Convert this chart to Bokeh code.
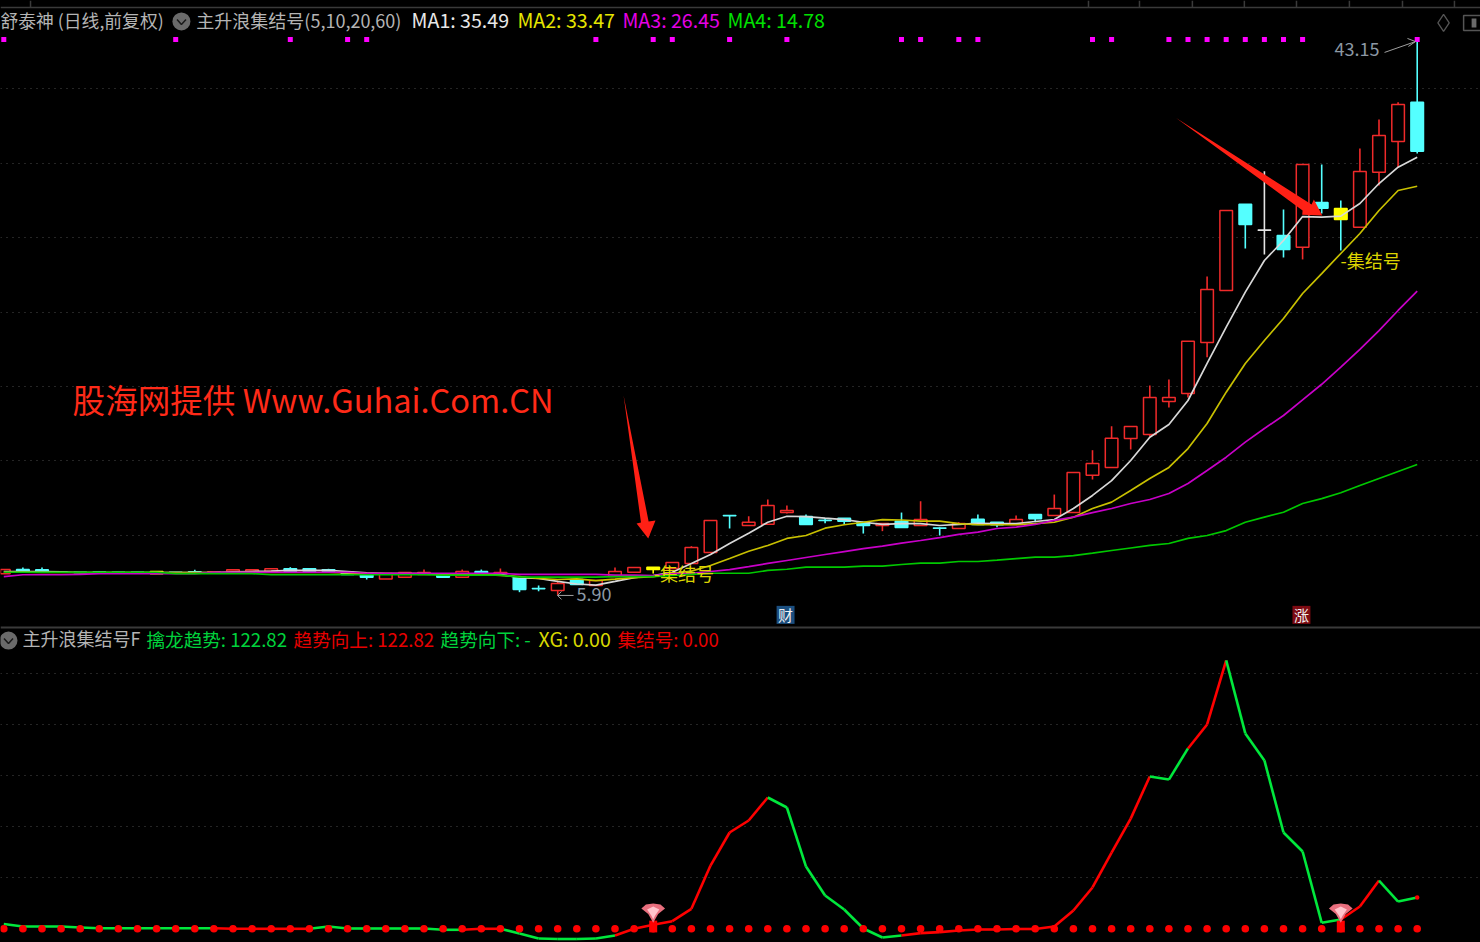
from bokeh.plotting import figure
from bokeh.layouts import column
from bokeh.models import Range1d, FixedTicker, Span
from bokeh.core.properties import value
from bokeh.embed import file_html
from bokeh.resources import INLINE

# ---------- daily bars (price, index 0..74) ----------
OPEN = [7.31,7.60,7.58,7.44,7.42,7.43,7.42,7.42,7.47,7.42,7.46,7.40,7.47,7.47,7.49,7.65,7.65,7.58,7.42,7.27,
        6.96,7.09,7.27,7.22,7.09,7.47,7.31,7.06,6.33,6.19,6.93,6.53,7.13,7.42,7.76,7.67,8.01,8.75,11.24,10.56,
        10.65,11.43,11.16,10.91,11.05,10.78,10.56,10.85,10.56,10.39,10.36,10.98,10.78,10.63,11.30,11.23,11.43,13.94,14.46,16.41,
        16.68,18.89,19.43,22.86,26.35,32.15,30.42,30.05,29.26,32.27,31.86,30.61,34.30,36.37,39.01]
CLOSE = [7.60,7.49,7.47,7.42,7.40,7.41,7.40,7.40,7.31,7.40,7.43,7.45,7.58,7.58,7.65,7.49,7.49,7.49,7.27,7.09,
         7.33,7.40,7.40,7.09,7.47,7.33,7.40,6.26,6.31,6.66,6.60,6.86,7.47,7.74,7.60,8.07,9.08,10.90,11.22,10.78,
         11.90,11.57,10.63,10.89,10.85,10.56,10.69,10.43,10.96,10.37,10.69,10.63,10.61,10.96,11.01,11.70,14.12,14.73,16.43,17.21,
         19.16,19.16,22.95,26.42,31.73,30.79,30.40,29.11,34.82,31.88,31.12,34.35,36.77,38.85,35.71]
HIGH = [7.60,7.74,7.74,7.46,7.44,7.45,7.44,7.44,7.47,7.44,7.58,7.45,7.58,7.58,7.65,7.76,7.65,7.65,7.42,7.27,
        7.33,7.40,7.60,7.22,7.60,7.60,7.67,7.06,6.53,6.86,6.93,6.86,7.74,7.74,7.76,8.07,9.17,10.90,11.24,11.18,
        12.31,11.90,11.30,11.05,11.05,10.78,10.69,11.43,12.19,10.43,10.78,11.30,10.78,11.23,11.30,12.64,14.12,15.62,17.23,17.21,
        19.97,20.37,22.95,27.29,31.73,32.15,34.37,31.80,34.82,34.82,32.40,35.89,37.84,39.01,43.15]
LOW = [7.31,7.49,7.47,7.40,7.38,7.39,7.38,7.38,7.31,7.38,7.43,7.40,7.47,7.47,7.49,7.49,7.49,7.49,7.27,6.93,
       6.96,7.09,7.27,7.09,7.09,7.33,7.31,6.08,6.14,5.90,6.60,6.53,7.13,7.42,7.33,7.67,8.01,8.75,10.36,10.56,
       10.65,11.37,10.63,10.71,10.63,10.02,10.18,10.43,10.56,9.89,10.36,10.63,10.45,10.63,10.78,11.23,11.43,13.65,14.46,15.67,
       16.54,18.49,19.16,21.87,26.35,29.17,28.77,28.57,28.44,31.53,29.04,30.61,33.41,34.62,35.56]
YELLOW_BARS = [8, 34, 70]
WHITE_BARS = [66]
CYAN_WICK_BARS = [70]

# ---------- moving averages ----------
MA1 = [7.47,7.47,7.47,7.44,7.40,7.40,7.40,7.40,7.40,7.40,7.40,7.40,7.44,7.47,7.50,7.54,7.54,7.54,7.47,7.37,
       7.33,7.33,7.33,7.27,7.27,7.30,7.27,7.06,7.00,6.80,6.63,6.55,6.80,7.06,7.20,7.42,8.01,8.61,9.35,10.04,
       10.78,11.18,11.16,11.05,10.96,10.78,10.63,10.69,10.69,10.56,10.63,10.71,10.69,10.69,10.83,10.96,11.70,12.58,13.58,14.93,
       16.49,17.35,18.96,21.45,23.89,26.24,28.37,29.71,31.32,31.28,31.35,32.20,33.54,34.64,35.31]
MA2 = [7.42,7.42,7.40,7.40,7.40,7.40,7.40,7.40,7.40,7.40,7.40,7.40,7.40,7.40,7.40,7.40,7.40,7.40,7.37,7.33,
       7.33,7.33,7.33,7.30,7.27,7.27,7.20,7.13,7.00,6.93,6.97,6.86,6.95,7.06,7.13,7.33,7.49,7.87,8.34,8.83,
       9.22,9.69,9.89,10.38,10.61,10.78,10.96,10.93,10.85,10.85,10.69,10.61,10.61,10.61,10.69,10.78,11.12,11.70,12.13,12.91,
       13.72,14.46,15.73,17.41,19.52,21.45,22.99,24.47,26.15,27.49,28.84,30.18,31.73,33.07,33.36]
MA3 = [7.13,7.25,7.25,7.25,7.27,7.33,7.33,7.33,7.33,7.33,7.33,7.42,7.42,7.42,7.42,7.42,7.42,7.42,7.42,7.35,
       7.35,7.35,7.35,7.35,7.35,7.35,7.35,7.27,7.27,7.27,7.27,7.27,7.23,7.23,7.20,7.33,7.35,7.47,7.60,7.80,
       8.01,8.21,8.41,8.61,8.81,9.01,9.17,9.37,9.55,9.75,9.96,10.11,10.36,10.45,10.63,10.90,11.12,11.43,11.70,12.04,
       12.31,12.71,13.38,14.26,15.15,16.16,17.08,17.95,19.00,20.05,21.20,22.39,23.66,25.01,26.31]
MA4 = [7.42,7.42,7.42,7.42,7.42,7.42,7.42,7.42,7.42,7.33,7.33,7.33,7.33,7.33,7.25,7.25,7.25,7.25,7.25,7.25,
       7.25,7.25,7.25,7.22,7.22,7.22,7.22,7.09,7.09,7.09,7.09,7.09,7.13,7.13,7.13,7.20,7.27,7.35,7.35,7.35,
       7.54,7.62,7.76,7.76,7.76,7.83,7.83,7.94,8.03,8.03,8.14,8.14,8.23,8.34,8.43,8.43,8.54,8.70,8.88,9.05,
       9.22,9.35,9.69,9.89,10.22,10.78,11.12,11.45,12.04,12.37,12.76,13.25,13.72,14.19,14.66]
MA_COLORS = ["#d8d8d8", "#c8c000", "#c800c8", "#00c800"]

# ---------- signal row on top of the price panel ----------
MARK_BARS = [0,9,15,18,19,31,34,35,38,41,47,48,50,51,57,58,61,62,63,64,65,66,67,68,74]
MARK_LEVEL = 43.22

# ---------- lower indicator ----------
TREND = [18.8,9,9,9,5,2.4,2.4,2.4,2.4,2.4,2.4,2.4,0,0,0,0,0,9,1.2,1.2,
         1.2,1.2,1.2,-3.9,-3.9,0,0,-18.4,-38,-40,-40,-38,-26,0,15.7,29.8,78.4,248,377.5,424.5,
         514.7,475.5,244,130.5,75.7,1.2,-34,-26,-17,-13,-6.7,-2.7,-2.7,-0.8,-0.8,9,71.7,162,299,432,
         597,585,707,801,1052,766,660,377.5,303,23.5,36.5,87.4,189,107,122.82]
RED_RANGES = [(12,16),(25,26),(33,40),(48,60),(63,64),(71,72)]
SIGNAL_BARS = [34, 70]
BELL_DX = [-0.62, -0.38, 0, 0.38, 0.62, 0.26, 0, -0.26]
BELL_V = [79.6, 95, 99, 95, 79.6, 58, 24, 58]
BELL_IN_DX = [-0.32, 0, 0.32, 0.1, 0, -0.1]
BELL_IN_V = [76, 87, 76, 52, 37, 52]

# ---------- texts ----------
HEAD_TOP = [("舒泰神 (日线,前复权)", -0.173, "#b4b4b4", "17.8px"), ("主升浪集结号(5,10,20,60)", 10.08, "#b4b4b4", "18px"),
            ("MA1: 35.49", 21.35, "#e8e8e8", "19.6px"), ("MA2: 33.47", 26.89, "#e6e600", "19.6px"),
            ("MA3: 26.45", 32.39, "#e600e6", "19.6px"), ("MA4: 14.78", 37.89, "#00e000", "19.6px")]
HEAD_LOW = [("主升浪集结号F", 0.98, "#b4b4b4", "18px"), ("擒龙趋势: 122.82", 7.47, "#00d23c", "18.6px"),
            ("趋势向上: 122.82", 15.17, "#e60000", "18.6px"), ("趋势向下: -", 22.87, "#00d23c", "18.6px"),
            ("XG: 0.00", 28.0, "#d8d800", "19.6px"), ("集结号: 0.00", 32.13, "#e60000", "18.6px")]
FONT = value("Noto Sans CJK SC")

X_LO, X_HI = -0.1728, 77.3141
W, H1, H2 = 1480, 625, 317

p = figure(width=W, height=H1, output_backend="svg", toolbar_location=None,
           x_range=Range1d(X_LO, X_HI), y_range=Range1d(3.84, 45.84),
           background_fill_color="#000000", border_fill_color="#000000",
           min_border=0, outline_line_color=None)
p.axis.visible = False
p.xgrid.visible = False
p.ygrid.ticker = FixedTicker(ticks=[39.9, 34.9, 29.9, 24.9, 19.9, 14.9, 9.9])
p.ygrid.grid_line_color = "#4a4a4a"
p.ygrid.grid_line_dash = "1 5"
p.ygrid.grid_line_width = 1

# frame strokes
p.add_layout(Span(location=45.37, dimension="width", line_color="#3a3a3a", line_width=1.5))
TOP_TICKS = [1.40, 56.79, 59.46, 62.23, 64.95, 67.68, 70.45, 73.23, 75.95]
p.segment(TOP_TICKS, [45.37]*len(TOP_TICKS), TOP_TICKS, [45.84]*len(TOP_TICKS), line_color="#3a3a3a", line_width=1.5)

# candles
idx = list(range(len(OPEN)))
RED, CYAN = "#f02a2a", "#54ffff"
def bar_color(i):
    if i in YELLOW_BARS: return "#ffff00"
    if i in WHITE_BARS: return "#e4e4e4"
    return RED if CLOSE[i] >= OPEN[i] else CYAN
cols = [bar_color(i) for i in idx]
wick = [CYAN if i in CYAN_WICK_BARS else cols[i] for i in idx]
fill = ["#000000" if c == RED else c for c in cols]
p.segment(idx, LOW, idx, HIGH, line_color=wick, line_width=1.6)
p.vbar(x=idx, width=0.66, bottom=[min(a, b) for a, b in zip(OPEN, CLOSE)],
       top=[max(a, b) for a, b in zip(OPEN, CLOSE)], fill_color=fill, line_color=cols, line_width=1.5)

# moving averages (longest period drawn last, on top)
for series, c in zip([MA1, MA2, MA3, MA4], MA_COLORS):
    p.line(idx, series, line_color=c, line_width=1.7)

# signal row
p.scatter(MARK_BARS, [MARK_LEVEL]*len(MARK_BARS), marker="square", size=5, fill_color="#ff00ff", line_color=None)

# red call-out arrows
ARROW1_X = [32.45, 33.76, 34.12, 33.74, 33.13, 33.36]
ARROW1_Y = [19.30, 10.83, 10.90, 9.69, 10.69, 10.76]
ARROW2_X = [61.38, 68.47, 68.59, 69.03, 67.98, 68.00]
ARROW2_Y = [37.95, 32.13, 32.47, 31.39, 31.44, 31.73]
p.patch(ARROW1_X, ARROW1_Y, fill_color="#ff2015", line_color=None)
p.patch(ARROW2_X, ARROW2_Y, fill_color="#ff2015", line_color=None)

# extreme-value pointers
p.line([72.29, 73.91], [42.35, 43.08], line_color="#a0a0a0", line_width=1)
p.line([73.49, 73.91, 73.54], [43.29, 43.08, 42.75], line_color="#a0a0a0", line_width=1)
p.line([28.99, 29.83], [5.86, 5.86], line_color="#a0a0a0", line_width=1)
p.line([29.20, 28.99, 29.20], [6.12, 5.86, 5.59], line_color="#a0a0a0", line_width=1)

# news badges
BADGE_X = [40.93, 67.94]
BADGE_COL = ["#1b4f80", "#7d0a12"]
BADGE_TXT = ["财", "涨"]
p.vbar(x=BADGE_X, width=0.94, bottom=3.95, top=5.16, fill_color=BADGE_COL, line_color=None)
p.text(BADGE_X, [4.58]*2, text=BADGE_TXT, text_color="#f0f0f0", text_font=FONT, text_font_size="15px",
       text_align="center", text_baseline="middle")

# header
p.text([t[1] for t in HEAD_TOP], [44.53]*len(HEAD_TOP), text=[t[0] for t in HEAD_TOP],
       text_color=[t[2] for t in HEAD_TOP], text_font=FONT, text_font_size=[t[3] for t in HEAD_TOP],
       text_baseline="middle")
p.scatter([9.30], [44.43], size=18, marker="circle", fill_color="#6a6a6a", line_color=None)
p.line([9.07, 9.30, 9.54], [44.56, 44.23, 44.56], line_color="#1a1a1a", line_width=1.5)

# top-right tools
p.scatter([75.38], [44.33], marker="diamond", size=17, fill_color=None, line_color="#555555", line_width=1.3)
p.quad(left=[76.43], right=[77.4], bottom=[43.82], top=[44.83], fill_color=None, line_color="#555555", line_width=1.5)
p.quad(left=[76.85], right=[77.10], bottom=[44.03], top=[44.63], fill_color="#6a6a6a", line_color=None)

# labels
p.text([3.60], [19.12], text=["股海网提供 Www.Guhai.Com.CN"], text_color="#ff2a18", text_font=FONT,
       text_font_size="32.6px", text_baseline="middle")
p.text([69.67, 29.98], [42.55, 5.93], text=["43.15", "5.90"], text_color="#8c98a4", text_font=FONT,
       text_font_size="18px", text_baseline="middle")
p.text([69.98, 34.03], [28.37, 7.40], text=["-集结号", "-集结号"], text_color="#dcd400", text_font=FONT,
       text_font_size="18px", text_baseline="middle")

# ---------- lower panel ----------
q = figure(width=W, height=H2, output_backend="svg", toolbar_location=None,
           x_range=Range1d(X_LO, X_HI), y_range=Range1d(-53.7, 1188.9),
           background_fill_color="#000000", border_fill_color="#000000",
           min_border=0, outline_line_color=None)
q.axis.visible = False
q.xgrid.visible = False
q.ygrid.ticker = FixedTicker(ticks=[200, 400, 600, 800, 1000])
q.ygrid.grid_line_color = "#4a4a4a"
q.ygrid.grid_line_dash = "1 5"
q.ygrid.grid_line_width = 1
q.add_layout(Span(location=1181, dimension="width", line_color="#3a3a3a", line_width=2))

def seg_color(i):
    return "#ff0000" if any(a <= i <= b for a, b in RED_RANGES) else "#00e83c"
q.segment(idx[:-1], TREND[:-1], idx[1:], TREND[1:], line_color=[seg_color(i) for i in idx[1:]], line_width=2.6)
q.scatter([74], [TREND[74]], marker="circle", size=4.5, fill_color="#ff0000", line_color=None)
q.scatter(idx, [0]*len(idx), marker="circle", size=7.6, fill_color="#ff0000", line_color=None)
q.segment(SIGNAL_BARS, [32]*2, SIGNAL_BARS, [-14]*2, line_color="#ff0000", line_width=8)
q.patches([[b + d for d in BELL_DX] for b in SIGNAL_BARS], [BELL_V]*2, fill_color="#e96f7e", line_color=None)
q.patches([[b + d for d in BELL_IN_DX] for b in SIGNAL_BARS], [BELL_IN_V]*2, fill_color="#ffc4cc", line_color=None)

q.text([t[1] for t in HEAD_LOW], [1138]*len(HEAD_LOW), text=[t[0] for t in HEAD_LOW],
       text_color=[t[2] for t in HEAD_LOW], text_font=FONT, text_font_size=[t[3] for t in HEAD_LOW],
       text_baseline="middle")
q.scatter([0.246], [1130], size=18, marker="circle", fill_color="#6a6a6a", line_color=None)
q.line([0.01, 0.246, 0.48], [1138, 1118, 1138], line_color="#1a1a1a", line_width=1.5)

layout = column(p, q, spacing=0)
TEMPLATE = "{% block preamble %}<style>html,body{margin:0;padding:0;background:#000;overflow:hidden}</style>{% endblock %}"
open("out.html", "w").write(file_html(layout, INLINE, template=TEMPLATE))
